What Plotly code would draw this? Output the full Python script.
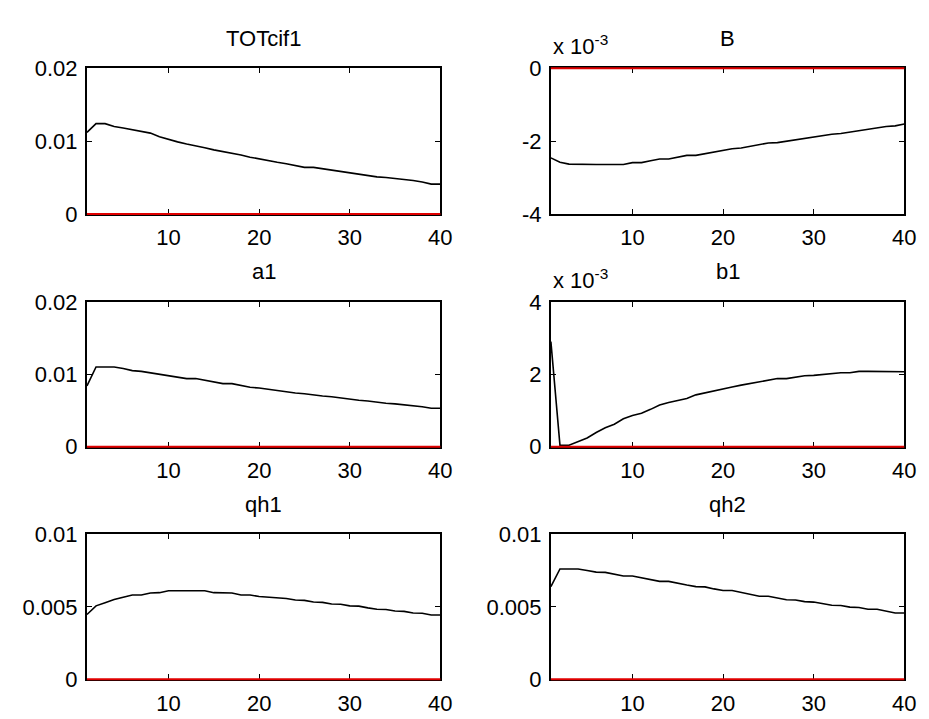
import plotly.graph_objects as go
from plotly.subplots import make_subplots

t = list(range(1, 41))

TOTcif1 = [11.2, 12.4, 12.4, 12.0, 11.8, 11.6, 11.4, 11.1, 10.6, 10.2,
           9.9, 9.6, 9.4, 9.1, 8.8, 8.6, 8.3, 8.1, 7.8, 7.6,
           7.3, 7.1, 6.9, 6.7, 6.4, 6.4, 6.2, 6.0, 5.8, 5.7,
           5.5, 5.3, 5.1, 5.0, 4.9, 4.8, 4.6, 4.4, 4.1, 4.1]
B = [-2.46, -2.58, -2.63, -2.64, -2.64, -2.64, -2.64, -2.64, -2.64, -2.59,
     -2.59, -2.54, -2.49, -2.49, -2.44, -2.39, -2.39, -2.34, -2.29, -2.24,
     -2.21, -2.19, -2.14, -2.09, -2.05, -2.04, -2.00, -1.96, -1.91, -1.88,
     -1.85, -1.81, -1.79, -1.75, -1.70, -1.67, -1.64, -1.60, -1.58, -1.53]
a1 = [8.4, 11.0, 11.0, 11.0, 10.8, 10.5, 10.4, 10.2, 10.0, 9.9,
      9.7, 9.4, 9.4, 9.2, 9.0, 8.7, 8.7, 8.4, 8.2, 8.1,
      7.9, 7.7, 7.6, 7.4, 7.3, 7.1, 7.0, 6.9, 6.7, 6.6,
      6.4, 6.3, 6.1, 6.0, 5.9, 5.8, 5.7, 5.5, 5.3, 5.3]
b1 = [2.9, 0.04, 0.04, 0.13, 0.24, 0.39, 0.52, 0.62, 0.77, 0.86,
      0.92, 1.03, 1.15, 1.22, 1.27, 1.33, 1.43, 1.49, 1.55, 1.60,
      1.65, 1.70, 1.75, 1.80, 1.84, 1.88, 1.88, 1.93, 1.96, 1.97,
      2.00, 2.02, 2.04, 2.04, 2.08, 2.08, 2.08, 2.08, 2.08, 2.07]
qh1 = [4.47, 5.07, 5.29, 5.51, 5.67, 5.82, 5.82, 5.96, 5.98, 6.11,
       6.11, 6.11, 6.11, 6.11, 5.98, 5.98, 5.96, 5.82, 5.82, 5.71,
       5.67, 5.58, 5.58, 5.47, 5.45, 5.33, 5.31, 5.20, 5.18, 5.07,
       5.05, 4.93, 4.84, 4.82, 4.71, 4.69, 4.58, 4.56, 4.44, 4.44]
qh2 = [6.40, 7.62, 7.62, 7.62, 7.51, 7.40, 7.38, 7.24, 7.13, 7.13,
       7.02, 6.89, 6.76, 6.76, 6.62, 6.51, 6.40, 6.38, 6.24, 6.13,
       6.13, 6.00, 5.87, 5.73, 5.73, 5.60, 5.49, 5.47, 5.36, 5.33,
       5.22, 5.11, 5.09, 4.98, 4.96, 4.84, 4.84, 4.73, 4.58, 4.58]

titles = ["TOTcif1", "B", "a1", "b1", "qh1", "qh2"]
series = [[v * 1e-3 for v in s] for s in (TOTcif1, B, a1, b1, qh1, qh2)]
yranges = [[0, 0.02], [-0.004, 0], [0, 0.02], [0, 0.004], [0, 0.01], [0, 0.01]]
ytickvals = [[0, 0.01, 0.02], [-0.004, -0.002, 0], [0, 0.01, 0.02],
             [0, 0.002, 0.004], [0, 0.005, 0.01], [0, 0.005, 0.01]]
yticktext = [["0", "0.01", "0.02"], ["-4", "-2", "0"], ["0", "0.01", "0.02"],
             ["0", "2", "4"], ["0", "0.005", "0.01"], ["0", "0.005", "0.01"]]
multiplier = [None, "x 10<sup>-3</sup>", None, "x 10<sup>-3</sup>", None, None]
xtickvals = [10, 20, 30, 40]

W, H = 929, 719
col_px = [(80, 438), (550, 908)]
row_px = [(50, 201), (292, 442), (533, 683)]

fig = make_subplots(rows=3, cols=2)
font = dict(family="Liberation Sans, Arial, sans-serif", size=22, color="black")

shapes = []
annotations = []
for i in range(6):
    r, c = divmod(i, 2)
    x0, x1 = col_px[c]
    y0, y1 = row_px[r]
    xd = [x0 / W, x1 / W]
    yd = [1 - y1 / H, 1 - y0 / H]
    fig.add_trace(go.Scatter(x=t, y=series[i], mode="lines",
                             line=dict(color="black", width=1.6),
                             showlegend=False, hoverinfo="skip"),
                  row=r + 1, col=c + 1)
    n = "" if i == 0 else str(i + 1)
    fig.layout["xaxis" + n].update(
        domain=xd, range=[1, 40], tickvals=xtickvals,
        ticks="inside", ticklen=5, tickwidth=1.2, tickcolor="black",
        showline=True, linecolor="black", linewidth=2, mirror="ticks",
        showgrid=False, zeroline=False, tickfont=font, layer="below traces",
        ticklabelstandoff=3)
    fig.layout["yaxis" + n].update(
        domain=yd, range=yranges[i], tickvals=ytickvals[i], ticktext=yticktext[i],
        ticks="inside", ticklen=5, tickwidth=1.2, tickcolor="black",
        showline=True, linecolor="black", linewidth=2, mirror="ticks",
        showgrid=False, zeroline=False, tickfont=font, layer="below traces",
        ticklabelstandoff=3)
    lo, hi = yranges[i]
    yz = (0 - lo) / (hi - lo)
    shapes.append(dict(type="line", xref="x%s domain" % n, yref="y%s domain" % n,
                       x0=0, x1=1, y0=yz, y1=yz, layer="above",
                       line=dict(color="#e00000", width=2)))
    annotations.append(dict(text=titles[i], xref="paper", yref="paper",
                            x=(x0 + x1) / 2 / W, y=1 - (y0 - 31) / H,
                            xanchor="center", yanchor="middle", showarrow=False,
                            font=font))
    if multiplier[i]:
        annotations.append(dict(text=multiplier[i], xref="paper", yref="paper",
                                x=x0 / W, y=1 - (y0 - 24) / H,
                                xanchor="left", yanchor="middle", showarrow=False,
                                font=font))

fig.update_layout(width=W, height=H, margin=dict(l=0, r=0, t=0, b=0),
                  paper_bgcolor="white", plot_bgcolor="white",
                  shapes=shapes, annotations=annotations, font=font)
fig.write_html("out.html")
